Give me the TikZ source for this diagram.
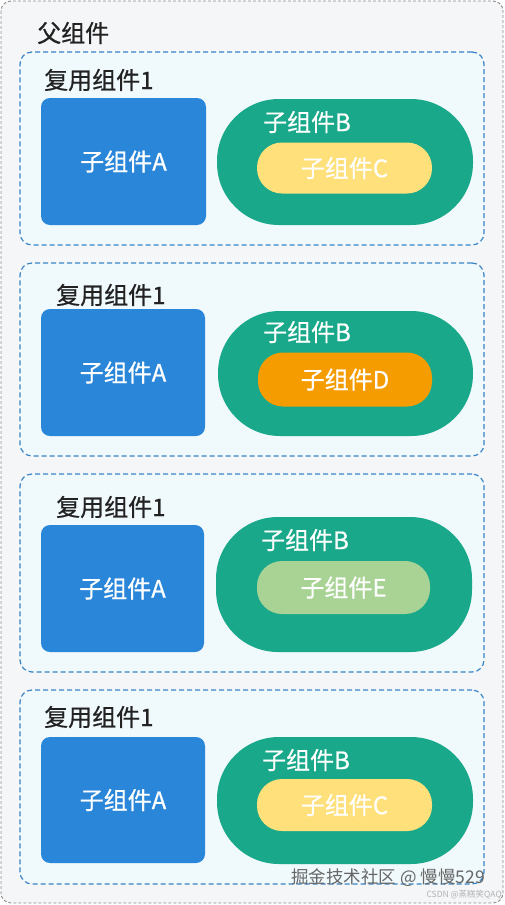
\documentclass[tikz,border=0pt]{standalone}
\usepackage{fontspec}
\setmainfont{Noto Sans CJK SC}
\newfontfamily\medfont[FakeBold=0.7]{Noto Sans CJK SC}
\usetikzlibrary{positioning}
\definecolor{outerfill}{HTML}{F5F6F8}
\definecolor{outerline}{HTML}{8A8A8A}
\definecolor{panelfill}{HTML}{F0F9FC}
\definecolor{panelline}{HTML}{3A84C6}
\definecolor{ablue}{HTML}{2A86D9}
\definecolor{bgreen}{HTML}{19A98A}
\definecolor{cyellow}{HTML}{FFE07A}
\definecolor{dorange}{HTML}{F59C00}
\definecolor{egreen}{HTML}{A8D394}
\definecolor{txt}{HTML}{222222}
\tikzset{
  outerbox/.style={draw=outerline, fill=outerfill, dash pattern=on 3pt off 2pt, line width=0.9pt, rounded corners=10pt},
  panel/.style={draw=panelline, fill=panelfill, dash pattern=on 5pt off 3pt, line width=1.2pt, rounded corners=12pt, inner sep=0pt},
  bigfont/.style={font=\medfont\fontsize{24}{28}\selectfont},
  abox/.style={fill=ablue, rounded corners=9pt, text=white, bigfont, inner sep=0pt},
  bbox/.style={fill=bgreen, rounded corners=62pt, inner sep=0pt},
  pill/.style={rounded corners=25pt, text=white, bigfont, inner sep=0pt},
  lbl/.style={text=txt, bigfont, inner sep=0pt},
  blbl/.style={text=white, bigfont, inner sep=0pt},
}
\begin{document}
\begin{tikzpicture}[x=1pt,y=-1pt]
\useasboundingbox (0,0) rectangle (504,905);
\draw[outerbox] (1,1) rectangle (503,903);
\node[lbl, anchor=west] (parent) at (37,33) {父组件};

% panel 1
\node[panel, minimum width=464pt, minimum height=193pt] (p1) at (252,148.5) {};
\node[lbl, anchor=west] (p1l) at (44,80) {复用组件1};
\node[abox, minimum width=165pt, minimum height=127pt] (a1) at (123.5,161.5) {子组件A};
\node[bbox, minimum width=256pt, minimum height=126pt] (b1) at (345,162) {};
\node[blbl] (b1l) at (307,122) {子组件B};
\node[pill, fill=cyellow, minimum width=175pt, minimum height=51pt] (c1) at (344.5,168) {子组件C};

% panel 2
\node[panel, minimum width=464pt, minimum height=193pt] (p2) at (252,359.5) {};
\node[lbl, anchor=west] (p2l) at (56,295) {复用组件1};
\node[abox, minimum width=164pt, minimum height=127pt] (a2) at (123,372.5) {子组件A};
\node[bbox, minimum width=255pt, minimum height=125pt] (b2) at (345.5,373.5) {};
\node[blbl] (b2l) at (307,332) {子组件B};
\node[pill, fill=dorange, minimum width=174pt, minimum height=54pt] (d2) at (345,379.5) {子组件D};

% panel 3
\node[panel, minimum width=464pt, minimum height=198pt] (p3) at (252,573) {};
\node[lbl, anchor=west] (p3l) at (56,507) {复用组件1};
\node[abox, minimum width=163pt, minimum height=127pt] (a3) at (122.5,588.5) {子组件A};
\node[bbox, minimum width=256pt, minimum height=135pt] (b3) at (344,584.5) {};
\node[blbl] (b3l) at (305,540) {子组件B};
\node[pill, fill=egreen, minimum width=173pt, minimum height=53pt] (e3) at (343.5,587.5) {子组件E};

% panel 4
\node[panel, minimum width=464pt, minimum height=194pt] (p4) at (252,787) {};
\node[lbl, anchor=west] (p4l) at (44,717) {复用组件1};
\node[abox, minimum width=164pt, minimum height=126pt] (a4) at (123,800) {子组件A};
\node[bbox, minimum width=256pt, minimum height=127pt] (b4) at (345,800.5) {};
\node[blbl] (b4l) at (306,760) {子组件B};
\node[pill, fill=cyellow, minimum width=175pt, minimum height=52pt] (c4) at (344.5,805) {子组件C};

% watermarks
\node[text=black!60, font=\fontsize{17.5}{20}\selectfont, inner sep=0pt] (wm1) at (388,878) {掘金技术社区 @ 慢慢529};
\node[text=black!30, font=\fontsize{8.5}{10}\selectfont, inner sep=0pt, anchor=east] (wm2) at (502,895) {CSDN @蒸糕笑QAQ};
\end{tikzpicture}
\end{document}
